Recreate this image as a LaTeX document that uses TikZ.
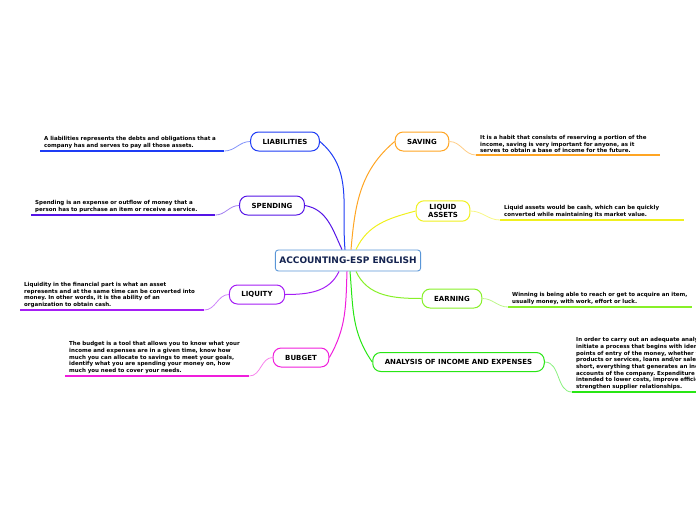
\documentclass[tikz,border=0pt]{standalone}
\usepackage{fontspec}
\setmainfont{DejaVu Sans}
\usepackage{tikz}
\frenchspacing

\definecolor{rootline}{RGB}{90,150,215}
\definecolor{rootText}{RGB}{20,35,80}
\definecolor{liaC}{RGB}{30,60,245}
\definecolor{speC}{RGB}{85,20,230}
\definecolor{liqC}{RGB}{165,30,245}
\definecolor{budC}{RGB}{240,30,220}
\definecolor{savC}{RGB}{255,165,35}
\definecolor{lqaC}{RGB}{240,240,30}
\definecolor{earC}{RGB}{135,240,40}
\definecolor{anaC}{RGB}{40,230,20}

\begin{document}
\begin{tikzpicture}[
    x=1pt, y=-1pt,
    root/.style={draw=rootline, line width=0.9pt, rounded corners=3pt, fill=white,
        font=\bfseries\fontsize{9}{10}\selectfont, text=rootText,
        inner xsep=4pt, minimum height=21pt},
    branch/.style={draw=#1, line width=1pt, rounded corners=8pt, fill=white,
        font=\bfseries\fontsize{7}{8.5}\selectfont, align=center,
        inner xsep=12pt, minimum height=19pt},
    desc/.style={font=\bfseries\fontsize{5.5}{6.7}\selectfont, align=left,
        text width=176pt, inner xsep=4pt, inner ysep=2pt, anchor=south west},
    trunk/.style={draw=#1, line width=1pt},
    twig/.style={draw=#1!55, line width=0.8pt},
    uline/.style={draw=#1, line width=1.3pt}
]
\useasboundingbox (0,0) rectangle (696,520);

% ==========================
% NODO CENTRAL
% ==========================
\node[root] (root) at (348,260.5) {ACCOUNTING-ESP ENGLISH};

% ==========================
% RAMAS IZQUIERDAS
% ==========================
\node[branch=liaC] (lia) at (285,141.5) {LIABILITIES};
\node[branch=speC] (spe) at (272,205.5) {SPENDING};
\node[branch=liqC] (liq) at (257,294.5) {LIQUITY};
\node[branch=budC] (bud) at (301,357.5) {BUBGET};

\node[desc] (liaD) at (40,151) {A liabilities represents the debts and obligations that a\\company has and serves to pay all those assets.};
\node[desc] (speD) at (31,215) {Spending is an expense or outflow of money that a\\person has to purchase an item or receive a service.};
\node[desc] (liqD) at (20,310) {Liquidity in the financial part is what an asset\\represents and at the same time can be converted into\\money. In other words, it is the ability of an\\organization to obtain cash.};
\node[desc] (budD) at (65,376) {The budget is a tool that allows you to know what your\\income and expenses are in a given time, know how\\much you can allocate to savings to meet your goals,\\identify what you are spending your money on, how\\much you need to cover your needs.};

% ==========================
% RAMAS DERECHAS
% ==========================
\node[branch=savC] (sav) at (422,141.5) {SAVING};
\node[branch=lqaC] (lqa) at (443,211) {LIQUID\\ASSETS};
\node[branch=earC] (ear) at (452,298.5) {EARNING};
\node[branch=anaC] (ana) at (458.5,362) {ANALYSIS OF INCOME AND EXPENSES};

\node[desc] (savD) at (476,155) {It is a habit that consists of reserving a portion of the\\income, saving is very important for anyone, as it\\serves to obtain a base of income for the future.};
\node[desc] (lqaD) at (500,220) {Liquid assets would be cash, which can be quickly\\converted while maintaining its market value.};
\node[desc] (earD) at (508,307) {Winning is being able to reach or get to acquire an item,\\usually money, with work, effort or luck.};
\node[desc] (anaD) at (572,392) {In order to carry out an adequate analysis, we must\\initiate a process that begins with identifying the\\points of entry of the money, whether from the sale of\\products or services, loans and/or sales of assets; in\\short, everything that generates an income in the\\accounts of the company. Expenditure analysis is\\intended to lower costs, improve efficiency and\\strengthen supplier relationships.};

% ==========================
% CONEXIONES
% ==========================
\draw[trunk=liaC] ([xshift=-3pt]root.north) to[out=95, in=-40] (lia.east);
\draw[trunk=speC] ([xshift=-6pt]root.north) to[out=115, in=-10] (spe.east);
\draw[trunk=liqC] ([xshift=-9pt]root.south) to[out=245, in=0] (liq.east);
\draw[trunk=budC] ([xshift=-1pt]root.south) to[out=268, in=60] (bud.east);
\draw[trunk=savC] ([xshift=3pt]root.north) to[out=85, in=-140] (sav.west);
\draw[trunk=lqaC] ([xshift=8pt]root.north) to[out=65, in=195] (lqa.west);
\draw[trunk=earC] ([xshift=8pt]root.south) to[out=-65, in=180] (ear.west);
\draw[trunk=anaC] ([xshift=2pt]root.south) to[out=-85, in=125] (ana.west);

% subrayados y enlaces a las descripciones
\foreach \b/\c in {lia/liaC, spe/speC, liq/liqC, bud/budC} {
    \draw[uline=\c] (\b D.south west) -- (\b D.south east);
    \draw[twig=\c] (\b D.south east) to[out=0, in=180] (\b.west);
}
\foreach \b/\c in {sav/savC, lqa/lqaC, ear/earC, ana/anaC} {
    \draw[uline=\c] (\b D.south west) -- (\b D.south east);
    \draw[twig=\c] (\b.east) to[out=0, in=180] (\b D.south west);
}

\end{tikzpicture}
\end{document}
